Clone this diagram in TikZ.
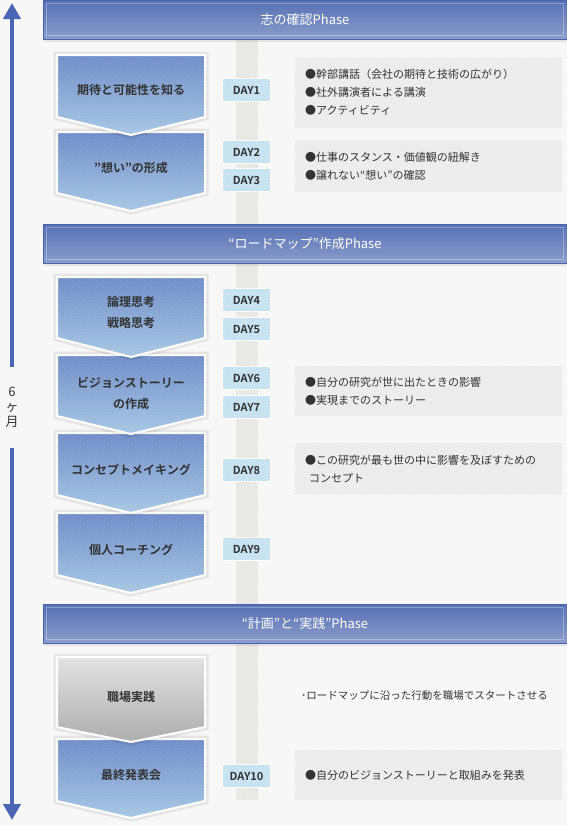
\documentclass[tikz,border=0pt]{standalone}
\usepackage{fontspec}
\setmainfont{Noto Sans CJK JP}[BoldFont={Noto Sans CJK JP Bold}]
\usetikzlibrary{arrows.meta}

\definecolor{pageBg}{HTML}{F7F7F7}
\definecolor{phaseTop}{HTML}{5670B4}
\definecolor{phaseBot}{HTML}{8C9DCB}
\definecolor{phaseEdge}{HTML}{4763AD}
\definecolor{chevTop}{HTML}{5F80C2}
\definecolor{chevBot}{HTML}{9DC1E2}
\definecolor{grayTop}{HTML}{E2E2E2}
\definecolor{grayBot}{HTML}{ADADAD}
\definecolor{dayFill}{HTML}{B3DAEE}
\definecolor{infoFill}{HTML}{E4E4E4}
\definecolor{railFill}{HTML}{E0E0DA}
\definecolor{arrowBlue}{HTML}{4A66B5}
\definecolor{ink}{HTML}{333333}

\begin{document}
\begin{tikzpicture}[x=1pt, y=-1pt]
	\def\hrange{-120,-117,...,300}
	\tikzset{hatch/.style={path picture={
		\foreach \k in \hrange
			\draw[white, opacity=#1, line width=.9pt] ([xshift=\k pt]path picture bounding box.south west) -- ++(900pt,900pt);
	}}}
	\tikzstyle{phase} = [draw=phaseEdge, line width=1pt, top color=phaseTop, bottom color=phaseBot, minimum width=524pt, minimum height=39pt, inner sep=0pt, text=white, font={\fontsize{13}{15}\selectfont}];
	\tikzstyle{day} = [draw=white, line width=1.2pt, fill=dayFill, hatch=.55, minimum width=48pt, minimum height=23pt, inner sep=0pt, text=ink, font={\fontsize{11}{13}\selectfont\bfseries}];
	\tikzstyle{info} = [fill=infoFill, hatch=.7, anchor=north west, minimum width=267pt, text width=247pt, inner xsep=10pt, align=left, text=ink, font={\fontsize{11}{18}\selectfont}];
	\tikzstyle{note} = [anchor=west, inner sep=0pt, text=ink, font={\fontsize{10.5}{13}\selectfont}];
	\tikzstyle{chevtext} = [align=center, text=ink, font={\fontsize{12}{21}\selectfont\bfseries}];
	\tikzstyle{months} = [minimum height=81pt, inner sep=0pt, align=center, text=ink, font={\fontsize{13}{15}\selectfont}];
	\tikzstyle{timeline} = [arrowBlue, line width=4pt, -{Triangle[width=17pt, length=16pt]}];

	\useasboundingbox (0,0) rectangle (567,825);
	\fill[pageBg] (0,0) rectangle (567,825);

	% rail behind the days
	\def\hrange{-770,-767,...,25}
	\path[fill=railFill, hatch=.65] (236,39) rectangle (258,800);
	\def\hrange{-120,-117,...,300}

	% phases
	\foreach \y/\txt [count=\i] in {0/{志の確認Phase}, 224/{“ロードマップ”作成Phase}, 604/{“計画”と“実践”Phase}} {
		\fill[black, opacity=.08] (44,\y+39) rectangle (567,\y+42);
		\node[phase] (phase\i) at (305,\y+19.5) {\txt};
		\draw[white, opacity=.3] ([shift={(4pt,-4pt)}]phase\i.north west) rectangle ([shift={(-4pt,4pt)}]phase\i.south east);
	}

	% contents
	\foreach \i/\y/\h/\txt in {
		1/57/71/{●幹部講話（会社の期待と技術の広がり）\\●社外講演者による講演\\●アクティビティ},
		2/140/52/{●仕事のスタンス・価値観の紐解き\\●譲れない“想い”の確認},
		3/366/50/{●自分の研究が世に出たときの影響\\●実現までのストーリー},
		4/443/52/{●この研究が最も世の中に影響を及ぼすための\\\hspace*{4pt}コンセプト},
		5/750/50/{●自分のビジョンストーリーと取組みを発表}} {
		\node[info, minimum height=\h pt] (info\i) at (295,\y) {\txt};
	}
	\node[note] (plan) at (301,696) {･ロードマップに沿った行動を職場でスタートさせる};

	% steps, drawn bottom up so each tip lies on the next box
	\foreach \n/\t/\s/\p/\ty/\ct/\cb/\so/\txt in {
		8/739/801/818/775/chevTop/chevBot/.25/{最終発表会},
		7/657/727/742/697/grayTop/grayBot/0/{職場実践},
		6/513/575/593/550/chevTop/chevBot/.25/{個人コーチング},
		5/433/495/513/470/chevTop/chevBot/.25/{コンセプトメイキング},
		4/355/416/434/393/chevTop/chevBot/.25/{ビジョンストーリー\\の作成},
		3/277/338/357/312/chevTop/chevBot/.25/{論理思考\\戦略思考},
		2/132/193/211/168/chevTop/chevBot/.25/{”想い”の形成},
		1/55/117/135/90/chevTop/chevBot/.25/{期待と可能性を知る}} {
		\path[draw=white, line width=2pt, top color=\ct, bottom color=\cb, hatch=\so,
			preaction={draw=black, draw opacity=.07, line width=7pt}]
			(57,\t) -- (205,\t) -- (205,\s) -- (131,\p) -- (57,\s) -- cycle;
		\node[chevtext] (step\n) at (131,\ty) {\txt};
	}

	\foreach \d/\y in {1/90, 2/152, 3/180, 4/300, 5/329, 6/378, 7/407, 8/470, 9/549, 10/776}
		\node[day] (day\d) at (246.5,\y) {DAY\d};

	% six months
	\coordinate (tTop) at (12,3);
	\coordinate (tEnd) at (12,820);
	\node[months] (span) at (12,407.5) {6\\ヶ\\月};
	\draw[timeline] (span.north) -- (tTop);
	\draw[timeline] (span.south) -- (tEnd);
\end{tikzpicture}
\end{document}
